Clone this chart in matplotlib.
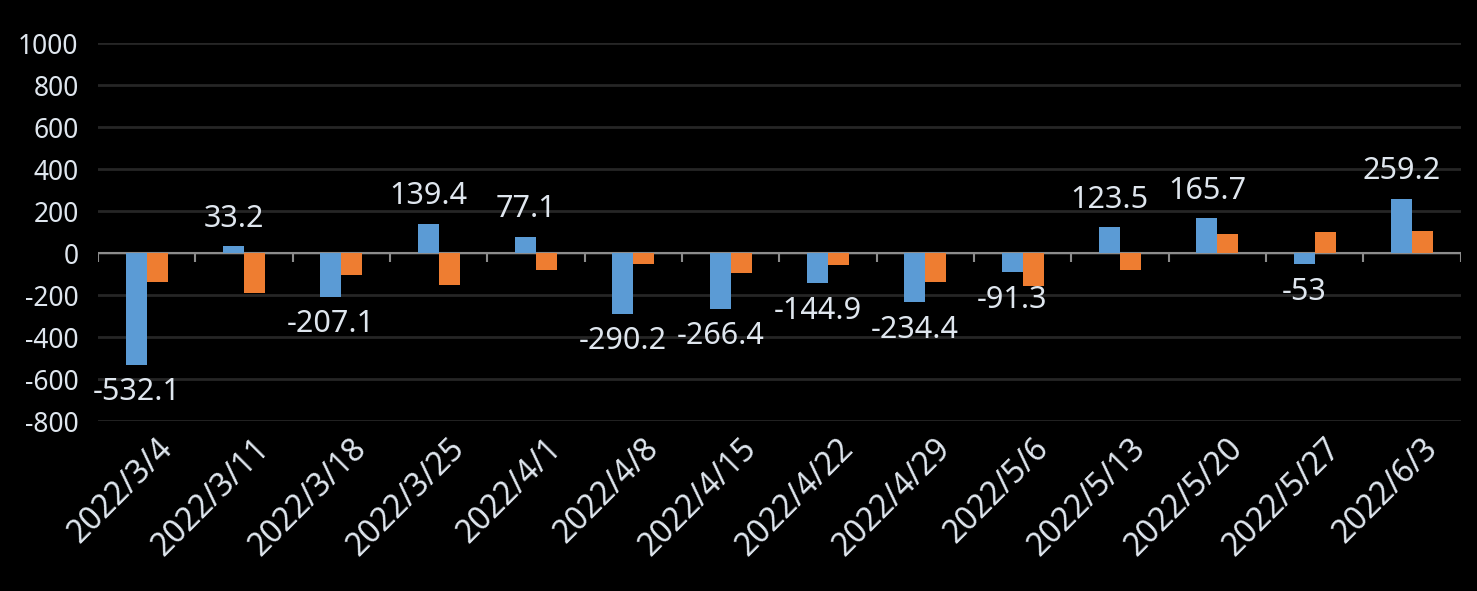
import numpy as np
import matplotlib
matplotlib.use("Agg")
import matplotlib.pyplot as plt
import matplotlib.transforms as mtransforms

dates = ["2022/3/4", "2022/3/11", "2022/3/18", "2022/3/25", "2022/4/1", "2022/4/8", "2022/4/15",
         "2022/4/22", "2022/4/29", "2022/5/6", "2022/5/13", "2022/5/20", "2022/5/27", "2022/6/3"]
blue_vals = [-532.1, 33.2, -207.1, 139.4, 77.1, -290.2, -266.4, -144.9, -234.4, -91.3, 123.5, 165.7, -53, 259.2]
orange_vals = [-137, -189, -105, -152, -79, -52, -95, -57, -137, -157, -81, 90, 100, 105]
y_ticks = [-800, -600, -400, -200, 0, 200, 400, 600, 800, 1000]

BLUE = "#5b9bd5"
ORANGE = "#ee7d31"
TXT = "#dfe6ee"

plt.rcParams['font.family'] = ['Noto Sans', 'DejaVu Sans']
plt.rcParams['axes.unicode_minus'] = False

fig = plt.figure(figsize=(14.77, 5.91), dpi=100, facecolor="black")
ax = fig.add_axes((0.0664, 0.2876, 0.9226, 0.6396))
ax.set_facecolor("black")

x = np.arange(len(dates))
w = 0.215
ax.bar(x - w / 2, blue_vals, w, color=BLUE, zorder=3)
ax.bar(x + w / 2, orange_vals, w, color=ORANGE, zorder=3)

for xi, v in zip(x, blue_vals):
    off = 9 if v >= 0 else -9
    ax.annotate(f"{v:g}", (xi - w / 2, v), xytext=(0, off), textcoords="offset points",
                ha="center", va="bottom" if v >= 0 else "top", color=TXT, fontsize=22, zorder=4)

ax.set_xlim(-0.5, len(dates) - 0.5)
ax.set_ylim(-800, 1000)
ax.set_yticks(y_ticks)
ax.yaxis.grid(True, color="#262626", linewidth=2, zorder=0)
ax.axhline(0, color="#8c8c8c", linewidth=1.5, zorder=2)

# category separator ticks below the zero line
bounds = np.arange(len(dates) + 1) - 0.5
ax.vlines(bounds, -45, 0, color="#8c8c8c", linewidth=1.5, zorder=2)

ax.set_xticks(x)
ax.set_xticklabels(dates, rotation=45, ha="right", rotation_mode="anchor")
ax.tick_params(axis="x", length=0, pad=8, labelsize=23, colors=TXT)
ax.tick_params(axis="y", length=0, pad=14, labelsize=19, colors=TXT)
# nudge rotated date labels so their ends sit just right of the category centre
shift = mtransforms.ScaledTranslation(9 / 100, 0, fig.dpi_scale_trans)
for lbl in ax.get_xticklabels():
    lbl.set_transform(lbl.get_transform() + shift)
for s in ax.spines.values():
    s.set_visible(False)

fig.savefig("out.png", dpi=100, facecolor="black")
